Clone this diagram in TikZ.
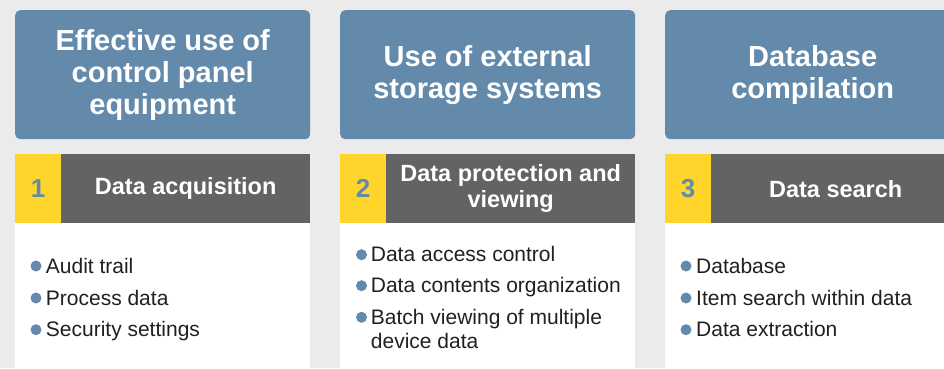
\documentclass[tikz,border=0pt]{standalone}
\usepackage{fontspec}
\setmainfont{Liberation Sans}
\definecolor{bg}{HTML}{EBEBEB}
\definecolor{steel}{HTML}{6389AB}
\definecolor{sun}{HTML}{FFD52B}
\definecolor{slate}{HTML}{636363}
\definecolor{ink}{HTML}{231F20}
\begin{document}
\begin{tikzpicture}[x=1pt,y=-1pt,
 titlebox/.style={fill=steel, rounded corners=5pt, minimum width=295pt, minimum height=129pt, text=white, font=\fontsize{29}{32}\selectfont\bfseries, align=center, inner sep=0pt, anchor=north west},
 numbox/.style={fill=sun, minimum width=46pt, minimum height=69pt, text=steel, font=\fontsize{26}{28}\selectfont\bfseries, inner sep=0pt, anchor=north west},
 headbox/.style={fill=slate, minimum width=249pt, minimum height=69pt, text=white, font=\fontsize{23.5}{26.5}\selectfont\bfseries, align=center, inner sep=0pt, anchor=north west},
 panel/.style={fill=white, minimum width=295pt, minimum height=150pt, inner sep=0pt, anchor=north west},
 dot/.style={circle, fill=steel, minimum size=11pt, inner sep=0pt},
 item/.style={text=ink, font=\fontsize{21}{24}\selectfont, anchor=base west, inner sep=0pt, align=left}
]
\useasboundingbox (0,0) rectangle (944,368);
\clip (0,0) rectangle (944,368);
\fill[bg] (0,0) rectangle (944,368);

% column 1
\node[titlebox] (t1) at (15,10) {Effective use of\\control panel\\equipment};
\node[numbox] (n1) at (15,154) {1};
\node[headbox] (h1) at (61,154) {Data acquisition};
\node[panel] (p1) at (15,223) {};
\node[dot] (d11) at (36,266) {};
\node[item] (i11) at (45.7,273) {Audit trail};
\node[dot] (d12) at (36,298) {};
\node[item] (i12) at (45.7,305) {Process data};
\node[dot] (d13) at (36,329.7) {};
\node[item] (i13) at (45.7,336.7) {Security settings};

% column 2
\node[titlebox] (t2) at (340,10) {Use of external\\storage systems};
\node[numbox] (n2) at (340,154) {2};
\node[headbox] (h2) at (386,154) {Data protection and\\viewing};
\node[panel] (p2) at (340,223) {};
\node[dot] (d21) at (361.5,254.7) {};
\node[item] (i21) at (370.7,261.7) {Data access control};
\node[dot] (d22) at (361.5,285.7) {};
\node[item] (i22) at (370.7,292.7) {Data contents organization};
\node[dot] (d23) at (361.5,317.3) {};
\node[item] (i23) at (370.7,348.3) {Batch viewing of multiple\\device data};

% column 3
\node[titlebox] (t3) at (665,10) {Database\\compilation};
\node[numbox] (n3) at (665,154) {3};
\node[headbox] (h3) at (711,154) {Data search};
\node[panel] (p3) at (665,223) {};
\node[dot] (d31) at (686,266) {};
\node[item] (i31) at (696,273) {Database};
\node[dot] (d32) at (686,298) {};
\node[item] (i32) at (696,305) {Item search within data};
\node[dot] (d33) at (686,329.7) {};
\node[item] (i33) at (696,336.7) {Data extraction};
\end{tikzpicture}
\end{document}
